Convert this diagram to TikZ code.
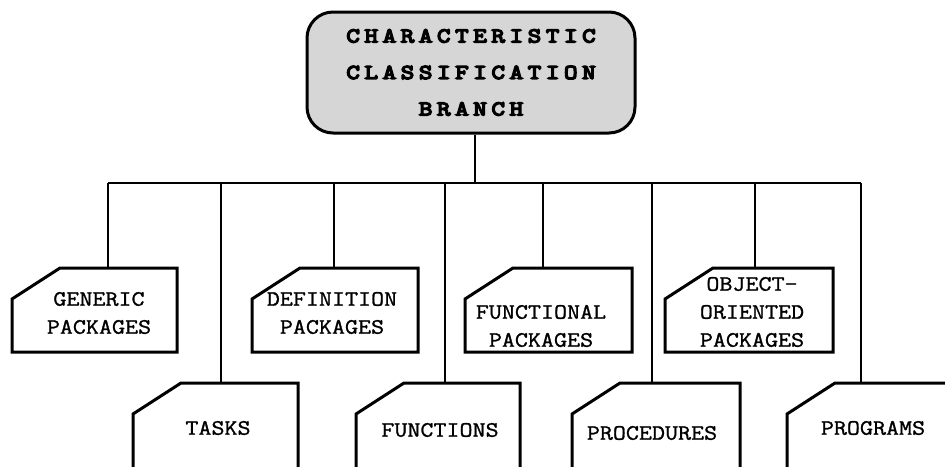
\documentclass[tikz,border=0pt]{standalone}
\usepackage{fontspec}
\newfontfamily\boxfont{Latin Modern Mono}[FakeStretch=1.15, FakeBold=1.2]
\newfontfamily\headfont{Latin Modern Mono}[FakeStretch=1.25, FakeBold=7, LetterSpace=22]
\usetikzlibrary{calc}

% chamfered tag box: name, left, top, right, bottom
\newcommand\tagbox[5]{%
  \path (#2,#3) coordinate (#1-nw) (#4,#5) coordinate (#1-se);
  \draw[boxline] (#2,#3-31) -- (#2+48,#3) -- (#4,#3) -- (#4,#5) -- (#2,#5) -- cycle;
}

\tikzset{
  boxline/.style={line width=3pt, line join=miter},
  conn/.style={line width=2pt},
  lbl/.style={align=center, inner sep=0pt,
    font=\boxfont\fontsize{22}{28}\selectfont},
  titlebox/.style={draw, line width=3pt, rounded corners=26pt,
    fill=black!16, minimum width=328pt, minimum height=121pt,
    align=center, inner sep=0pt,
    font=\headfont\fontsize{21}{36.5}\selectfont},
}

\begin{document}
\begin{tikzpicture}[x=1pt,y=1pt]
  \clip (0,0) rectangle (945,-466);

  % root of the classification tree
  \node[titlebox] (root) at (471,-72.5)
    {CHARACTERISTIC\\CLASSIFICATION\\BRANCH};

  % upper row of branches
  \tagbox{gen}{12}{-268}{177}{-352}
  \tagbox{def}{252}{-268}{418}{-352}
  \tagbox{fnl}{465}{-268}{632}{-352}
  \tagbox{obj}{665}{-268}{833}{-352}

  % lower row of branches (running past the bottom edge)
  \tagbox{tsk}{133}{-383}{298}{-490}
  \tagbox{fun}{356}{-383}{520}{-490}
  \tagbox{pro}{572}{-383}{740}{-490}
  \tagbox{prg}{787}{-383}{960}{-490}

  % labels
  \node[lbl] (genT) at (99,-313) {GENERIC\\PACKAGES};
  \node[lbl] (defT) at (332,-313) {DEFINITION\\PACKAGES};
  \node[lbl] (fnlT) at (541,-326) {FUNCTIONAL\\PACKAGES};
  \node[lbl] (objT) at (752,-312) {OBJECT-\\ORIENTED\\PACKAGES};
  \node[lbl] (tskT) at (218,-428) {TASKS};
  \node[lbl] (funT) at (440,-430) {FUNCTIONS};
  \node[lbl] (proT) at (652,-433) {PROCEDURES};
  \node[lbl] (prgT) at (873,-428) {PROGRAMS};

  % bus junctions
  \coordinate (j0) at (475,-183);
  \coordinate (b1) at (108,-183);
  \coordinate (b2) at (221,-183);
  \coordinate (b3) at (334,-183);
  \coordinate (b4) at (445,-183);
  \coordinate (b5) at (543,-183);
  \coordinate (b6) at (652,-183);
  \coordinate (b7) at (755,-183);
  \coordinate (b8) at (861,-183);

  % connectors
  \draw[conn] (root.south -| j0) -- (j0);
  \draw[conn] (b1) -- (b8);
  \draw[conn] (b1) -- (b1 |- gen-nw);
  \draw[conn] (b2) -- (b2 |- tsk-nw);
  \draw[conn] (b3) -- (b3 |- def-nw);
  \draw[conn] (b4) -- (b4 |- fun-nw);
  \draw[conn] (b5) -- (b5 |- fnl-nw);
  \draw[conn] (b6) -- (b6 |- pro-nw);
  \draw[conn] (b7) -- (b7 |- obj-nw);
  \draw[conn] (b8) -- (b8 |- prg-nw);
\end{tikzpicture}
\end{document}
